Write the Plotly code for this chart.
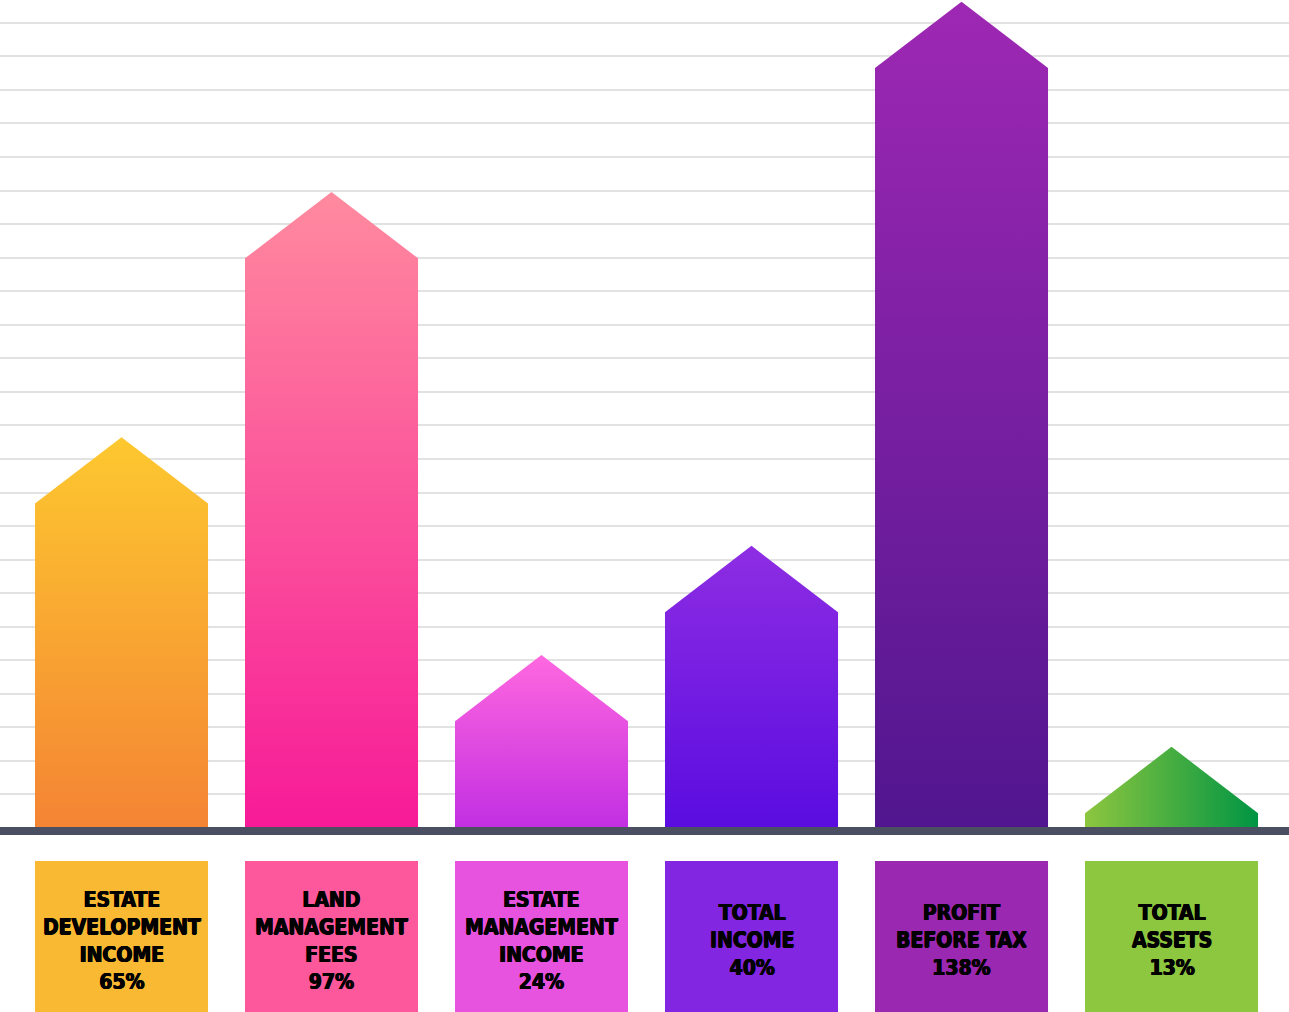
import plotly.graph_objects as go

# ---- data ----
categories = [
    "ESTATE<br>DEVELOPMENT<br>INCOME",
    "LAND<br>MANAGEMENT<br>FEES",
    "ESTATE<br>MANAGEMENT<br>INCOME",
    "TOTAL<br>INCOME",
    "PROFIT<br>BEFORE TAX",
    "TOTAL<br>ASSETS",
]
growth_pct = [65, 97, 24, 40, 138, 13]
# arrow tip heights (in grid-line units)
bar_heights = [11.65, 18.96, 5.16, 8.41, 24.63, 2.42]

# ---- styles ----
top_colors = ["#FDC82F", "#FF8A9E", "#FF68DF", "#8E2DE3", "#9E28B3", "#8DC63F"]
bottom_colors = ["#F48434", "#F71A98", "#C22FE2", "#5A0CE0", "#51168F", "#009543"]
gradient_types = ["vertical"] * 5 + ["horizontal"]
box_colors = ["#F9B933", "#FC589B", "#E752DE", "#8226E1", "#9B28B0", "#8DC63F"]

HALF_W = 0.412       # half bar width (category units)
HEAD = 1.98          # arrow head height (grid units)
X_RANGE = [-0.5786, 5.5595]
Y_RANGE = [-5.484, 24.68]
BOX_TOP = -0.98
LABEL_Y = -3.36

fig = go.Figure()

for i, h in enumerate(bar_heights):
    x0, x1 = i - HALF_W, i + HALF_W
    shoulder = h - HEAD
    xs = [x0, x0, i, x1, x1, x0]
    ys = [0, shoulder, h, shoulder, 0, 0]
    if gradient_types[i] == "vertical":
        cs = [[0, bottom_colors[i]], [1, top_colors[i]]]
    else:
        cs = [[0, top_colors[i]], [1, bottom_colors[i]]]
    fig.add_trace(go.Scatter(
        x=xs, y=ys, mode="lines", fill="toself",
        line=dict(width=0, color="rgba(0,0,0,0)"),
        fillgradient=dict(type=gradient_types[i], colorscale=cs),
        hoverinfo="skip", showlegend=False,
    ))

# label boxes
for i, (cat, pct) in enumerate(zip(categories, growth_pct)):
    fig.add_shape(type="rect", xref="x", yref="y",
                  x0=i - HALF_W, x1=i + HALF_W, y0=Y_RANGE[0], y1=BOX_TOP,
                  fillcolor=box_colors[i], line=dict(width=0), layer="below")
    fig.add_annotation(x=i, y=LABEL_Y, xref="x", yref="y",
                       text=f"<b>{cat}<br>{pct}%</b>", showarrow=False,
                       font=dict(family="DejaVu Sans Condensed", size=21, color="#000000",
                                 shadow="0.6px 0 0 #000, -0.6px 0 0 #000, 0 0.4px 0 #000"),
                       align="center")

# baseline
fig.add_shape(type="rect", xref="paper", yref="y", x0=0, x1=1, y0=-0.21, y1=0.03,
              fillcolor="#4B4F62", line=dict(width=0), layer="above")

fig.update_layout(
    width=1289, height=1012,
    margin=dict(l=0, r=0, t=0, b=0),
    paper_bgcolor="white", plot_bgcolor="white",
    xaxis=dict(range=X_RANGE, showgrid=False, zeroline=False, showticklabels=False,
               ticks="", fixedrange=True),
    yaxis=dict(range=Y_RANGE, tickvals=list(range(1, 25)), showgrid=True,
               gridcolor="#E2E2E2", gridwidth=2, zeroline=False,
               showticklabels=False, ticks="", fixedrange=True),
    showlegend=False,
)

fig.write_html("out.html", config={"displayModeBar": False},
               post_script="document.body.style.margin='0';document.body.style.overflow='hidden';")
